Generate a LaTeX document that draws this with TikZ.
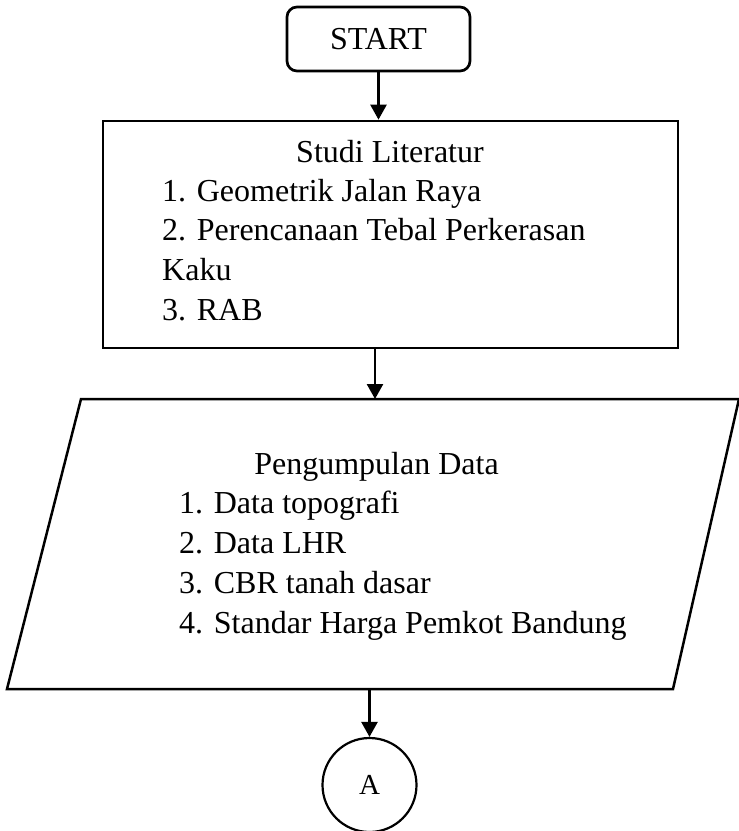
\documentclass[tikz,border=0pt]{standalone}
\usepackage{fontspec}
\setmainfont{Liberation Serif}
\usetikzlibrary{arrows.meta,calc}

\tikzset{
  txt/.style={font=\fontsize{32}{39.75}\selectfont, inner sep=0pt},
  boxline/.style={draw, line width=2.7pt},
  flowline/.style={line width=2.5pt, -{Triangle[length=15pt,width=16pt]}},
}

\begin{document}
\begin{tikzpicture}[x=1pt,y=-1pt]
  \useasboundingbox (0,0) rectangle (739,831);

  % start terminal
  \node[boxline, rounded corners=10pt, minimum width=183pt, minimum height=64pt, txt]
    (start) at (378.5,39) {START};

  % literature study box
  \node[boxline, minimum width=575pt, minimum height=227pt] (studi) at (390.5,234.5) {};
  \node[txt, anchor=base] (studiHead) at (390,162) {Studi Literatur};
  \node[txt, anchor=base west] (studi1) at (162,201) {1. Geometrik Jalan Raya};
  \node[txt, anchor=base west] (studi2) at (162,240.75) {2. Perencanaan Tebal Perkerasan};
  \node[txt, anchor=base west] (studi3) at (162,280.5) {Kaku};
  \node[txt, anchor=base west] (studi4) at (162,320.25) {3. RAB};

  % data collection (input/output parallelogram)
  \draw[line width=2.5pt, line join=miter] (81,399) -- (739,399) -- (673,689) -- (7,689) -- cycle;
  \coordinate (dataTop) at (375,399);
  \coordinate (dataBot) at (369.5,689);
  \node[txt, anchor=base] (dataHead) at (376.5,474) {Pengumpulan Data};
  \node[txt, anchor=base west] (data1) at (179,513.75) {1. Data topografi};
  \node[txt, anchor=base west] (data2) at (179,553.5) {2. Data LHR};
  \node[txt, anchor=base west] (data3) at (179,593.25) {3. CBR tanah dasar};
  \node[txt, anchor=base west] (data4) at (179,633) {4. Standar Harga Pemkot Bandung};

  % off-page connector
  \node[draw, circle, line width=2.2pt, minimum size=94pt, inner sep=0pt,
        font=\fontsize{29}{34}\selectfont] (conA) at (369.5,785) {A};

  % flow arrows
  \draw[flowline] (start.south) -- (start.south |- studi.north);
  \draw[flowline] (studi.south -| dataTop) -- (dataTop);
  \draw[flowline] (dataBot) -- (conA.north);
\end{tikzpicture}
\end{document}
